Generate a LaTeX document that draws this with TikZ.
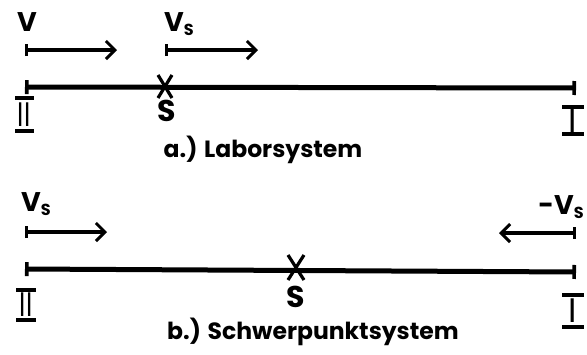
\documentclass[tikz,border=0pt]{standalone}
\usepackage{fontspec}
\setmainfont{Poppins}
\usetikzlibrary{arrows.meta}
\newcommand{\subS}{\raisebox{-0.25ex}{\fontsize{16}{16}\selectfont S}}
\begin{document}
\begin{tikzpicture}[x=1pt,y=-1pt,
  lab/.style={font=\fontsize{27}{27}\selectfont\bfseries, inner sep=0pt},
  slab/.style={font=\fontsize{30}{30}\selectfont\bfseries, inner sep=0pt},
  title/.style={font=\fontsize{23.5}{23.5}\selectfont\bfseries, inner sep=0pt, anchor=base},
  roman/.style={font=\fontsize{34}{34}\selectfont, inner sep=0pt},
  vel/.style={line width=3.8pt, {Bar[width=12pt,line width=3.4pt]}-{Straight Barb[length=9pt,width=18pt,line width=3pt]}},
  axis/.style={line width=5pt, {Bar[width=14pt,line width=3.6pt]}-{Bar[width=14pt,line width=3.6pt]}},
  crossline/.style={line width=3.2pt},
  rbar/.style={line width=3.2pt}
]
\useasboundingbox (0,0) rectangle (587,354);

% ---------- a.) Laborsystem ----------
\node[lab] (v) at (27,22) {V};
\coordinate (a1) at (25,50); \coordinate (a2) at (117,50);
\draw[vel] (a1) -- (a2);
\node[lab] (vs) at (179,24) {V\subS};
\coordinate (b1) at (165,50); \coordinate (b2) at (258,50);
\draw[vel] (b1) -- (b2);
\coordinate (L1) at (25,87); \coordinate (R1) at (576,88);
\draw[axis] (L1) -- (R1);
\coordinate (x1) at (165,87);
\draw[crossline] ([shift={(-7,-12)}]x1) -- ([shift={(7,11)}]x1);
\draw[crossline] ([shift={(7,-12)}]x1) -- ([shift={(-7,11)}]x1);
\node[slab] (s1) at (167,111) {S};
\node[roman] (r2a) at (24,115) {\scalebox{0.75}[1]{II}};
\draw[rbar] (15,98) -- (34,98);
\draw[rbar] (15,131) -- (34,131);
\node[roman] (r1a) at (573,121) {I};
\draw[rbar] (562,107) -- (584,107);
\draw[rbar] (562,134) -- (584,134);
\node[title] (ta) at (263,157) {a.) Laborsystem};

% ---------- b.) Schwerpunktsystem ----------
\node[lab] (vs2) at (36,204) {V\subS};
\coordinate (c1) at (25,232); \coordinate (c2) at (107,232);
\draw[vel] (c1) -- (c2);
\node[lab] (mvs) at (561,207) {-V\subS};
\coordinate (d1) at (576,233); \coordinate (d2) at (499,233);
\draw[vel] (d1) -- (d2);
\coordinate (L2) at (25,269); \coordinate (R2) at (576,272);
\draw[axis] (L2) -- (R2);
\coordinate (x2) at (296,268);
\draw[crossline] ([shift={(-8,-13)}]x2) -- ([shift={(8,12)}]x2);
\draw[crossline] ([shift={(8,-13)}]x2) -- ([shift={(-8,12)}]x2);
\node[slab] (s2) at (296,297) {S};
\node[roman] (r2b) at (26,305) {\scalebox{0.75}[1]{II}};
\draw[rbar] (16,290) -- (36,290);
\draw[rbar] (16,320) -- (36,320);
\node[roman] (r1b) at (573,311) {I};
\draw[rbar] (562,295) -- (584,295);
\draw[rbar] (562,327) -- (584,327);
\node[title] (tb) at (313,339) {b.) Schwerpunktsystem};
\end{tikzpicture}
\end{document}
